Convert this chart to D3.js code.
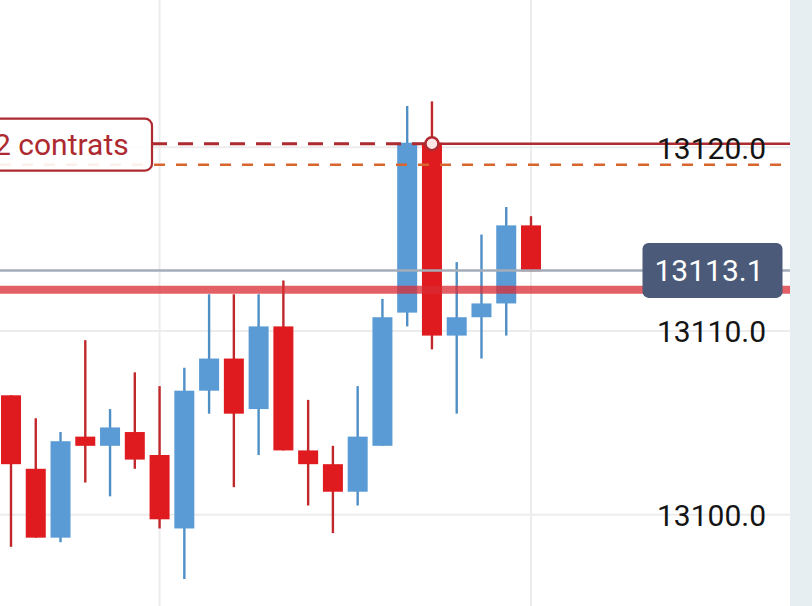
<!DOCTYPE html>
<html>
<head>
<meta charset="utf-8">
<script src="https://cdn.jsdelivr.net/npm/d3@7"></script>
<style>
  html, body { margin: 0; padding: 0; background: #fff; overflow: hidden; }
  svg { display: block; font-family: Roboto, "Noto Sans", sans-serif; }
</style>
</head>
<body>
<svg id="chart" width="812" height="606"></svg>
<script>
// candles, left to right: open, high, low, close
const opens  = [13106.5, 13102.5, 13098.75, 13104.25, 13103.75, 13104.5, 13103.25, 13099.25, 13106.75, 13108.5, 13105.75,
                13110.25, 13103.5, 13102.75, 13101.25, 13103.75, 13111.0, 13120.25, 13109.75, 13110.75, 13111.5, 13115.75];
const highs  = [13106.5, 13105.25, 13104.5, 13109.5, 13105.75, 13107.75, 13107.0, 13108.0, 13112.0, 13112.0, 13112.0,
                13112.75, 13106.25, 13103.75, 13107.0, 13111.75, 13122.25, 13122.5, 13113.75, 13115.25, 13116.75, 13116.25];
const lows   = [13098.25, 13098.75, 13098.5, 13101.75, 13101.0, 13102.5, 13099.25, 13096.5, 13105.5, 13101.5, 13103.25,
                13103.5, 13100.5, 13099.0, 13100.5, 13103.75, 13110.25, 13109.0, 13105.5, 13108.5, 13109.75, 13113.25];
const closes = [13102.75, 13098.75, 13104.0, 13103.75, 13104.75, 13103.0, 13099.75, 13106.75, 13108.5, 13105.5, 13110.25,
                13103.5, 13102.75, 13101.25, 13104.25, 13110.75, 13120.25, 13109.75, 13110.75, 13111.5, 13115.75, 13113.25];

const yTicks = [13100, 13110, 13120];
const gridCandles = [6, 21];

const orderLevel = 13120.2;     // "2 contrats" order line
const orderText = "2 contrats";
const orderCandle = 17;
const targetLevel = 13119.05;   // orange dashed line
const lastLevel = 13113.3;      // grey last-price line
const lastPrice = 13113.1;
const avgLevel = 13112.25;      // thick red line

const C = {
  up: "#5b9bd5", upWick: "#4f8fc6",
  down: "#e01b1f", downWick: "#c0282c",
  grid: "#ececec", order: "#ad2a30", target: "#d9652e",
  last: "#a3adb8", avg: "#d92b33", tag: "#4a5a78", strip: "#e7eef1"
};

const svg = d3.select("#chart");
const W = 812, H = 606, plotR = 790;
const FS = "30px";

const x = d3.scaleLinear().domain([0, opens.length - 1]).range([11, 531]);
const y = d3.scaleLinear().domain([13100, 13120]).range([514.7, 147.3]);
const bodyW = 20;

// right strip
svg.append("rect").attr("x", plotR).attr("y", 0).attr("width", W - plotR).attr("height", H).attr("fill", C.strip);

// grid
svg.append("g").selectAll("line").data(yTicks).join("line")
  .attr("x1", 0).attr("x2", plotR).attr("y1", d => y(d)).attr("y2", d => y(d))
  .attr("stroke", C.grid).attr("stroke-width", 2);
svg.append("g").selectAll("line").data(gridCandles).join("line")
  .attr("x1", d => x(d)).attr("x2", d => x(d)).attr("y1", 0).attr("y2", H)
  .attr("stroke", C.grid).attr("stroke-width", 2);

// candles
const candles = opens.map((o, i) => ({ i, o, h: highs[i], l: lows[i], c: closes[i], up: closes[i] >= o }));
const cg = svg.append("g");
cg.selectAll("line").data(candles).join("line")
  .attr("x1", d => x(d.i)).attr("x2", d => x(d.i))
  .attr("y1", d => y(d.h)).attr("y2", d => y(d.l))
  .attr("stroke", d => d.up ? C.upWick : C.downWick).attr("stroke-width", 2.4);
cg.selectAll("rect").data(candles).join("rect")
  .attr("x", d => x(d.i) - bodyW / 2).attr("width", bodyW)
  .attr("y", d => y(Math.max(d.o, d.c)))
  .attr("height", d => Math.max(1.5, Math.abs(y(d.o) - y(d.c))))
  .attr("fill", d => d.up ? C.up : C.down);

// price lines
svg.append("line").attr("x1", 0).attr("x2", plotR).attr("y1", y(avgLevel)).attr("y2", y(avgLevel))
  .attr("stroke", C.avg).attr("stroke-opacity", 0.75).attr("stroke-width", 8);
svg.append("line").attr("x1", 0).attr("x2", plotR).attr("y1", y(lastLevel)).attr("y2", y(lastLevel))
  .attr("stroke", C.last).attr("stroke-width", 2.5);
svg.append("line").attr("x1", 0).attr("x2", plotR).attr("y1", y(targetLevel)).attr("y2", y(targetLevel))
  .attr("stroke", C.target).attr("stroke-width", 2.5).attr("stroke-dasharray", "11,11");

const ox = x(orderCandle), oy = y(orderLevel);
svg.append("line").attr("x1", 152).attr("x2", ox).attr("y1", oy).attr("y2", oy)
  .attr("stroke", C.order).attr("stroke-width", 3).attr("stroke-dasharray", "15,11");
svg.append("line").attr("x1", ox).attr("x2", plotR).attr("y1", oy).attr("y2", oy)
  .attr("stroke", C.order).attr("stroke-width", 2.5);
svg.append("circle").attr("cx", ox).attr("cy", oy).attr("r", 6.5)
  .attr("fill", "#fde6e6").attr("stroke", C.order).attr("stroke-width", 2.5);

// order label
const lab = svg.append("g");
lab.append("rect").attr("x", -12).attr("y", oy - 25).attr("width", 164).attr("height", 52).attr("rx", 7)
  .attr("fill", "#fff").attr("fill-opacity", 0.9).attr("stroke", C.order).attr("stroke-width", 2.2);
lab.append("text").attr("x", -6).attr("y", oy + 11).attr("fill", C.order)
  .style("font-size", FS).text(orderText);

// y axis labels
const axis = d3.axisRight(y).tickValues(yTicks).tickFormat(d3.format(".1f")).tickSize(0).tickPadding(0);
const ag = svg.append("g").attr("transform", `translate(657,0)`).call(axis);
ag.select(".domain").remove();
ag.selectAll("text").attr("fill", "#141414").style("font-size", FS).style("font-family", "Roboto, sans-serif")
  .attr("dy", "0.36em");

// last price tag
const ty = y(lastLevel);
svg.append("rect").attr("x", 642.5).attr("y", ty - 27.5).attr("width", 140).attr("height", 55).attr("rx", 6)
  .attr("fill", C.tag);
svg.append("text").attr("x", 709).attr("y", ty).attr("dy", "0.36em").attr("text-anchor", "middle")
  .attr("fill", "#fff").style("font-size", FS).text(d3.format(".1f")(lastPrice));
</script>
</body>
</html>
